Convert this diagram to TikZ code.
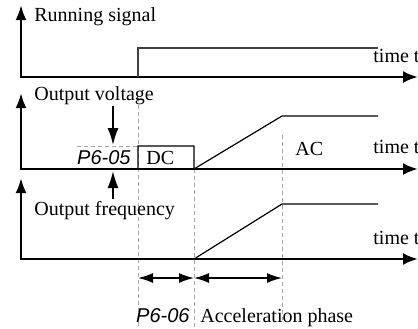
\documentclass[tikz,border=0pt]{standalone}
\usepackage{fontspec}
\setmainfont{Liberation Serif}
\newfontfamily\parfont{Liberation Sans}
\usetikzlibrary{arrows.meta}

\begin{document}
\begin{tikzpicture}[x=0.5pt,y=-0.5pt,
    axis/.style={line width=1.3pt,line join=miter,
      {Latex[length=7.5pt,width=5.5pt]}-{Latex[length=7.5pt,width=6pt]}},
    signal/.style={line width=0.6pt},
    guide/.style={gray!70,dash pattern=on 2pt off 1.5pt,line width=0.4pt},
    marker/.style={line width=0.8pt,-{Latex[length=8.5pt,width=5.5pt]}},
    span/.style={line width=0.8pt,
      {Latex[length=7.5pt,width=5pt]}-{Latex[length=7.5pt,width=5pt]}},
    label/.style={font=\fontsize{10}{12}\selectfont,inner sep=0pt,anchor=base west},
    param/.style={font=\parfont\itshape\fontsize{10}{12}\selectfont,inner sep=0pt,anchor=base east}]

  \useasboundingbox (0,0) rectangle (418,328);

  % axes
  \coordinate (y1) at (21,5);   \coordinate (o1) at (21,77);  \coordinate (t1) at (418,77);
  \coordinate (y2) at (21,93);  \coordinate (o2) at (21,169); \coordinate (t2) at (418,169);
  \coordinate (y3) at (21,178); \coordinate (o3) at (21,259); \coordinate (t3) at (418,259);

  % signal corners
  \coordinate (r1) at (138,77);  \coordinate (r2) at (138,48);  \coordinate (r3) at (378,48);
  \coordinate (v1) at (138,169); \coordinate (v2) at (138,146); \coordinate (v3) at (194,146);
  \coordinate (v4) at (194,169); \coordinate (v5) at (282,116); \coordinate (v6) at (378,116);
  \coordinate (f1) at (194,259); \coordinate (f2) at (282,204); \coordinate (f3) at (378,204);

  % guide lines
  \coordinate (g1) at (138,98);  \coordinate (g2) at (138,328);
  \coordinate (g3) at (77,146);
  \coordinate (g4) at (194,328);
  \coordinate (g5) at (282,135); \coordinate (g6) at (282,320);
  \draw[guide] (g1) -- (g2);
  \draw[guide] (g3) -- (v2);
  \draw[guide] (v4) -- (g4);
  \draw[guide] (g5) -- (g6);

  \draw[axis] (y1) -- (o1) -- (t1);
  \draw[axis] (y2) -- (o2) -- (t2);
  \draw[axis] (y3) -- (o3) -- (t3);

  \draw[signal,black!75] (r1) -- (r2) -- (r3);
  \draw[signal] (v1) -- (v2) -- (v3) -- (v4) -- (v5) -- (v6);
  \draw[signal] (f1) -- (f2) -- (f3);

  \node[label] (runlbl) at (34,21) {Running signal};
  \node[label] (voltlbl) at (34,100) {Output voltage};
  \node[label] (freqlbl) at (34,215) {Output frequency};
  \node[label] (time1) at (373,62) {time t};
  \node[label] (time2) at (373,153) {time t};
  \node[label] (time3) at (373,244) {time t};
  \node[label] (dclbl) at (146,164) {DC};
  \node[label] (aclbl) at (295,155) {AC};
  \node[param] (dcpar) at (131,164) {P6-05};
  \node[param] (dctime) at (190,322) {P6-06};
  \node[label] (acclbl) at (200,322) {Acceleration phase};

  % level markers
  \coordinate (m1) at (113,106); \coordinate (m2) at (113,145);
  \coordinate (m3) at (113,199); \coordinate (m4) at (113,171);
  \draw[marker] (m1) -- (m2);
  \draw[marker] (m3) -- (m4);

  % time spans
  \coordinate (s1) at (138,278); \coordinate (s2) at (194,278); \coordinate (s3) at (282,278);
  \draw[span] (s1) -- (s2);
  \draw[span] (s2) -- (s3);
\end{tikzpicture}
\end{document}
